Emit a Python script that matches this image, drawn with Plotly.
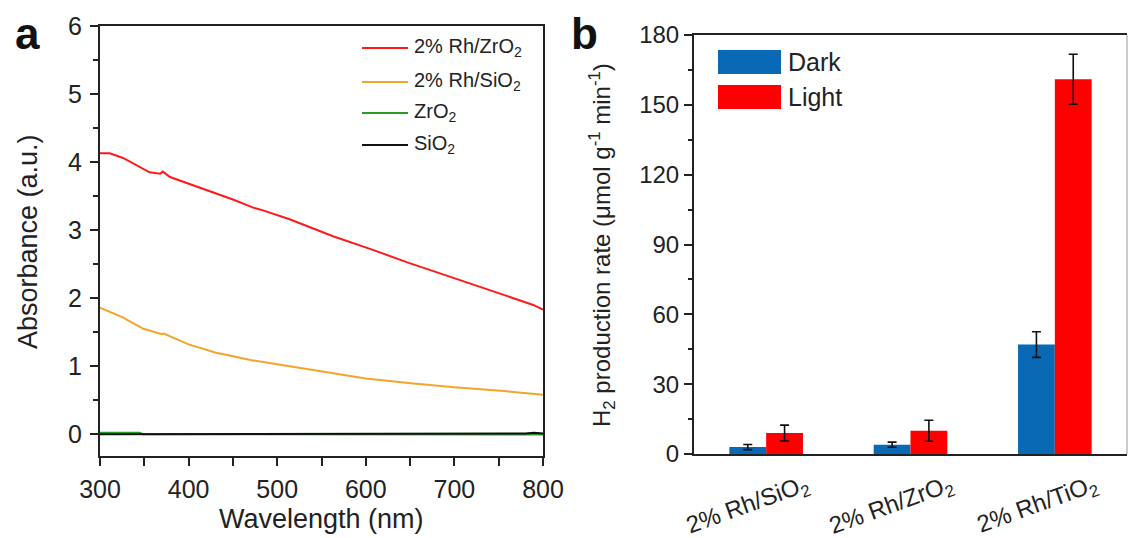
import plotly.graph_objects as go

# ---- Panel a: UV-vis absorbance spectra ----
wl_rh_zro2 = [300, 311, 326, 341, 356, 368, 371, 379, 394, 420, 450, 473, 484, 514,
              563, 608, 646, 703, 755, 778, 789, 800]
abs_rh_zro2 = [4.13, 4.13, 4.06, 3.95, 3.85, 3.83, 3.86, 3.78, 3.71, 3.59, 3.45, 3.33,
               3.29, 3.16, 2.91, 2.71, 2.53, 2.28, 2.05, 1.95, 1.90, 1.83]

wl_rh_sio2 = [300, 325, 349, 370, 372, 400, 430, 470, 500, 550, 600, 651, 700, 752, 780, 800]
abs_rh_sio2 = [1.86, 1.72, 1.55, 1.47, 1.48, 1.32, 1.20, 1.09, 1.03, 0.92, 0.82, 0.75,
               0.69, 0.64, 0.61, 0.58]

wl_zro2 = [300, 345, 348, 500, 800]
abs_zro2 = [0.02, 0.02, 0.0, -0.005, -0.005]

wl_sio2 = [300, 630, 640, 780, 790, 800]
abs_sio2 = [0.0, 0.0, 0.01, 0.01, 0.02, 0.01]

spectra_names = ["2% Rh/ZrO<sub>2</sub>", "2% Rh/SiO<sub>2</sub>", "ZrO<sub>2</sub>", "SiO<sub>2</sub>"]
spectra_colors = ["#FF1A1A", "#F2A52B", "#2A9A2A", "#111111"]

# ---- Panel b: H2 production rates ----
catalysts = ["2% Rh/SiO<sub>2</sub>", "2% Rh/ZrO<sub>2</sub>", "2% Rh/TiO<sub>2</sub>"]
dark_rate = [3.0, 4.0, 47.0]
dark_err = [1.1, 1.1, 5.5]
light_rate = [9.0, 10.0, 161.0]
light_err = [3.4, 4.5, 10.7]

W, H = 1128, 538
FONT = "Arial, Liberation Sans, sans-serif"
INK = "#222222"


def px(x):
    return x / W


def py(y):
    return 1 - y / H


fig = go.Figure()

spectra = [(wl_rh_zro2, abs_rh_zro2), (wl_rh_sio2, abs_rh_sio2), (wl_zro2, abs_zro2), (wl_sio2, abs_sio2)]
# draw baselines first so the coloured spectra sit on top
for idx in [2, 3, 1, 0]:
    wl, ab = spectra[idx]
    fig.add_trace(go.Scatter(x=wl, y=ab, mode="lines", name=spectra_names[idx],
                             line=dict(color=spectra_colors[idx], width=2),
                             xaxis="x", yaxis="y", showlegend=False))

fig.add_trace(go.Bar(x=catalysts, y=dark_rate, name="Dark", marker=dict(color="#0A69B4", line=dict(width=0)),
                     error_y=dict(type="data", array=dark_err, color="#111111", thickness=1.6, width=4.5),
                     xaxis="x2", yaxis="y2", showlegend=False))
fig.add_trace(go.Bar(x=catalysts, y=light_rate, name="Light", marker=dict(color="#FF0000", line=dict(width=0)),
                     error_y=dict(type="data", array=light_err, color="#111111", thickness=1.6, width=4.5),
                     xaxis="x2", yaxis="y2", showlegend=False))


def axis_style(size):
    return dict(showgrid=False, zeroline=False, showline=True, linecolor=INK, linewidth=2,
                ticks="outside", tickcolor=INK, tickwidth=2, automargin=False,
                tickfont=dict(family=FONT, size=size, color=INK))


fig.update_layout(
    template="none",
    width=W, height=H,
    margin=dict(l=0, r=0, t=0, b=0, pad=0),
    paper_bgcolor="white", plot_bgcolor="white",
    barmode="group", bargap=0.49, bargroupgap=0.0,
    xaxis=dict(domain=[px(100), px(543)], range=[300, 800], dtick=100, ticklen=8,
               mirror=True, anchor="y", ticklabelstandoff=2,
               minor=dict(dtick=50, ticks="outside", ticklen=8, tickcolor=INK, tickwidth=2),
               **axis_style(25)),
    yaxis=dict(domain=[py(456), py(26)], range=[-0.32, 6], dtick=1, ticklen=8,
               mirror=True, anchor="x", ticklabelstandoff=3,
               minor=dict(dtick=0.5, ticks="outside", ticklen=5, tickcolor=INK, tickwidth=2),
               **axis_style(25)),
    xaxis2=dict(domain=[px(694), px(1127)], range=[-0.5, 2.5], anchor="y2", automargin=False,
                showgrid=False, zeroline=False, showline=True, linecolor=INK, linewidth=2,
                mirror=True, ticks="", tickangle=-20, ticklabelshift=40, ticklabelstandoff=6,
                tickfont=dict(family=FONT, size=24, color=INK)),
    yaxis2=dict(domain=[py(454), py(35)], range=[0, 180], dtick=30, ticklen=8, anchor="x2",
                ticklabelstandoff=0,
                minor=dict(dtick=15, ticks="outside", ticklen=4, tickcolor=INK, tickwidth=2),
                **axis_style(24)),
)

shapes = []
annotations = []

# right frame edge of panel b
shapes.append(dict(type="line", xref="paper", yref="paper", x0=px(1127), x1=px(1127),
                   y0=py(454), y1=py(35), line=dict(color="#BBBBBB", width=1.5)))

# legend for panel a
leg_rows = [48, 82, 113, 145]
for yrow, name, col in zip(leg_rows, spectra_names, spectra_colors):
    shapes.append(dict(type="line", xref="paper", yref="paper", x0=px(362), x1=px(408),
                       y0=py(yrow), y1=py(yrow), line=dict(color=col, width=2)))
    annotations.append(dict(text=name, x=px(412), y=py(yrow), xref="paper", yref="paper",
                            xanchor="left", yanchor="middle", showarrow=False,
                            font=dict(family=FONT, size=20, color=INK)))

# legend for panel b
for (y0, y1), name, col in zip([(50, 74), (85, 109)], ["Dark", "Light"], ["#0A69B4", "#FF0000"]):
    shapes.append(dict(type="rect", xref="paper", yref="paper", x0=px(718), x1=px(781),
                       y0=py(y1), y1=py(y0), fillcolor=col, line=dict(width=0)))
    annotations.append(dict(text=name, x=px(786), y=py((y0 + y1) / 2), xref="paper", yref="paper",
                            xanchor="left", yanchor="middle", showarrow=False,
                            font=dict(family=FONT, size=25, color=INK)))

# axis titles
annotations.append(dict(text="Absorbance (a.u.)", x=px(28), y=py(242), xref="paper", yref="paper",
                        textangle=-90, showarrow=False, xanchor="center", yanchor="middle",
                        font=dict(family=FONT, size=27, color=INK)))
annotations.append(dict(text="Wavelength (nm)", x=px(321), y=0.003, xref="paper", yref="paper",
                        showarrow=False, xanchor="center", yanchor="bottom",
                        font=dict(family=FONT, size=27, color=INK)))
annotations.append(dict(text="H<sub>2</sub> production rate (μmol g<sup>-1</sup> min<sup>-1</sup>)",
                        x=px(602), y=py(245), xref="paper", yref="paper",
                        textangle=-90, showarrow=False, xanchor="center", yanchor="middle",
                        font=dict(family=FONT, size=24, color=INK)))

# panel letters
annotations.append(dict(text="<b>a</b>", x=px(27), y=py(34), xref="paper", yref="paper",
                        showarrow=False, xanchor="center", yanchor="middle",
                        font=dict(family=FONT, size=44, color="#111111")))
annotations.append(dict(text="<b>b</b>", x=px(584), y=py(33), xref="paper", yref="paper",
                        showarrow=False, xanchor="center", yanchor="middle",
                        font=dict(family=FONT, size=44, color="#111111")))

fig.update_layout(shapes=shapes, annotations=annotations)

fig.write_html("out.html")
